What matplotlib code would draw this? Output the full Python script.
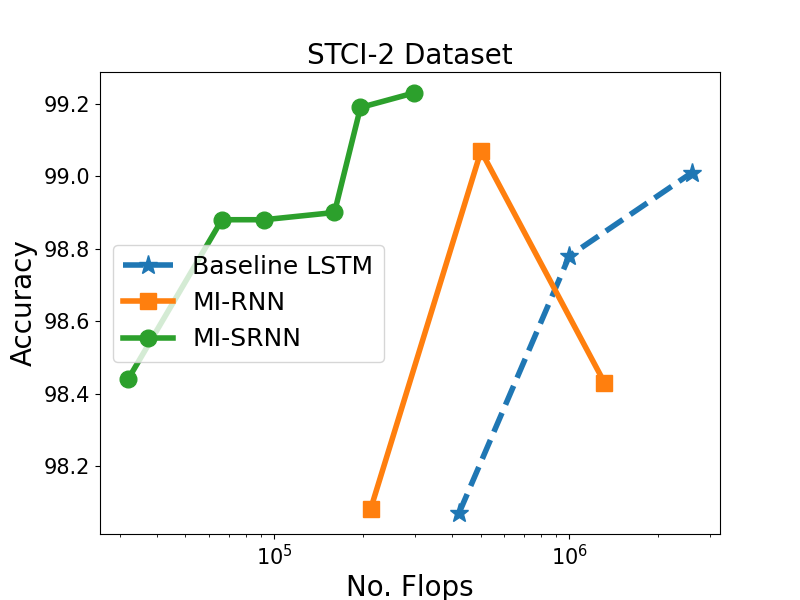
import matplotlib
matplotlib.use("Agg")
import matplotlib.pyplot as plt

lstm_flops = [423000, 1000000, 2600000]
lstm_acc = [98.07, 98.78, 99.01]
mirnn_flops = [212000, 502000, 1315000]
mirnn_acc = [98.08, 99.07, 98.43]
misrnn_flops = [32000, 66500, 92500, 160000, 196000, 297000]
misrnn_acc = [98.44, 98.88, 98.88, 98.90, 99.19, 99.23]

fig, ax = plt.subplots(figsize=(8, 6), dpi=100)
ax.plot(lstm_flops, lstm_acc, "*--", lw=4, ms=14, label="Baseline LSTM")
ax.plot(mirnn_flops, mirnn_acc, "s-", lw=4, ms=12, label="MI-RNN")
ax.plot(misrnn_flops, misrnn_acc, "o-", lw=4, ms=12, label="MI-SRNN")
ax.set_xscale("log")
ax.set_xlabel("No. Flops", fontsize=20)
ax.set_ylabel("Accuracy", fontsize=20)
ax.set_title("STCI-2 Dataset", fontsize=20)
ax.tick_params(labelsize=15)
ax.legend(fontsize=18, loc="center left")
fig.savefig("out.png")
